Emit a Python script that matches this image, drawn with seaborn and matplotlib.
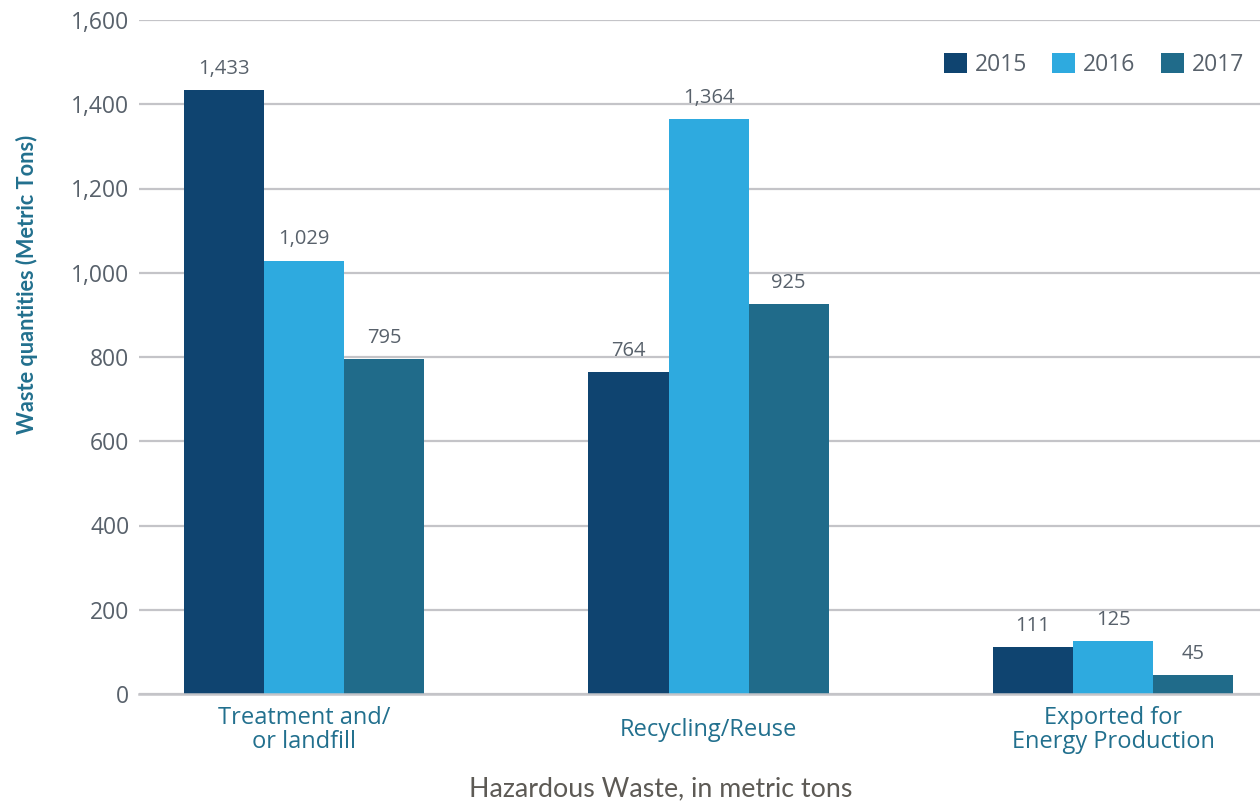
import matplotlib
matplotlib.use("Agg")
import matplotlib.pyplot as plt
import seaborn as sns
import pandas as pd
from matplotlib.font_manager import FontProperties

categories = ["Treatment and/\nor landfill", "Recycling/Reuse", "Exported for\nEnergy Production"]
years = ["2015", "2016", "2017"]
values_2015 = [1433, 764, 111]
values_2016 = [1029, 1364, 125]
values_2017 = [795, 925, 45]
yticks = [0, 200, 400, 600, 800, 1000, 1200, 1400, 1600]
colors = ["#0f4470", "#2eaadf", "#206b8a"]

rows = []
for yr, vals in zip(years, [values_2015, values_2016, values_2017]):
    for c, v in zip(categories, vals):
        rows.append({"category": c, "year": yr, "value": v})
df = pd.DataFrame(rows)

sns.set_style("white")
plt.rcParams["font.family"] = ["Open Sans", "DejaVu Sans"]

xlab_fp = FontProperties(family="Lato", size=19.3)
ylab_fp = FontProperties(family="Lato", weight="bold", size=15.7)

fig = plt.figure(figsize=(12.6, 8.08), dpi=100)
ax = fig.add_axes([139/1260, (808-694)/808, (1260-139)/1260, (694-20)/808])

sns.barplot(data=df, x="category", y="value", hue="year", order=categories,
            hue_order=years, palette=colors, saturation=1, width=0.594,
            ax=ax, errorbar=None, linewidth=0)

ax.set_ylim(0, 1600)
ax.set_xlim(-0.408, 2.363)
ax.set_yticks(yticks)
ax.set_yticklabels([f"{t:,}" for t in yticks])
ax.grid(axis="y", color="#c4c4c8", lw=1.6)
ax.set_axisbelow(True)
for s in ["top", "right", "left"]:
    ax.spines[s].set_visible(False)
ax.spines["bottom"].set_color("#c4c4c8")
ax.spines["bottom"].set_linewidth(1.8)

ax.tick_params(axis="y", length=0, pad=7, labelsize=16.5, labelcolor="#58616b")
ax.tick_params(axis="x", length=0, pad=26, labelsize=17, labelcolor="#22708e")
for lab in ax.get_xticklabels():
    lab.set_va("center")
    lab.set_linespacing(1.0)

for cont in ax.containers:
    ax.bar_label(cont, labels=[f"{int(v):,}" for v in cont.datavalues],
                 padding=8, fontsize=14.5, color="#58616b")

ax.set_ylabel("Waste quantities (Metric Tons)", fontproperties=ylab_fp, color="#22708e")
ax.yaxis.set_label_coords(-0.09, 0.607)
ax.set_xlabel("Hazardous Waste, in metric tons", fontproperties=xlab_fp, color="#5d5a55",
              va="center")
ax.xaxis.set_label_coords(0.465, -0.141)

ax.legend(loc="upper right", bbox_to_anchor=(1.0, 0.975), ncol=3, frameon=False,
          handlelength=1.0, handleheight=1.0, handletextpad=0.35,
          columnspacing=1.1, fontsize=16.5, labelcolor="#58616b", borderaxespad=0.3)

fig.savefig("out.png", dpi=100)
